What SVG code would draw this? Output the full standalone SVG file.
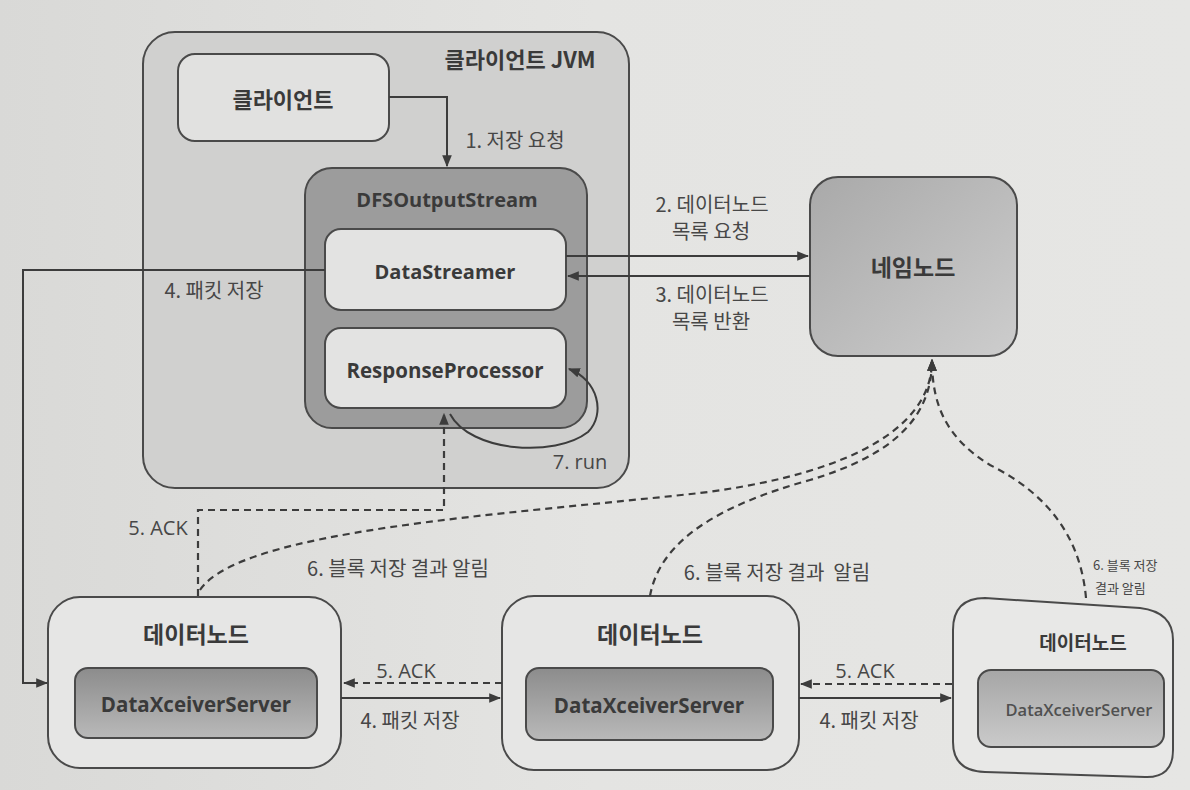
<svg xmlns="http://www.w3.org/2000/svg" width="1190" height="790" viewBox="0 0 1190 790">
<defs>
<linearGradient id="bg" x1="0" y1="0" x2="1" y2="0">
<stop offset="0" stop-color="#d9d9d7"/><stop offset="0.5" stop-color="#e4e4e2"/><stop offset="1" stop-color="#e6e6e4"/>
</linearGradient>
<linearGradient id="nn" x1="0" y1="0" x2="1" y2="1">
<stop offset="0" stop-color="#a9a9a9"/><stop offset="1" stop-color="#cdcdcd"/>
</linearGradient>
<linearGradient id="dxs" x1="0" y1="0" x2="0" y2="1">
<stop offset="0" stop-color="#8c8c8c"/><stop offset="1" stop-color="#b9b9b9"/>
</linearGradient>
<linearGradient id="dxs3" x1="0" y1="0" x2="0" y2="1">
<stop offset="0" stop-color="#a6a6a6"/><stop offset="1" stop-color="#cacaca"/>
</linearGradient>
<marker id="ahl" viewBox="0 0 10 10" refX="9" refY="5" markerWidth="12" markerHeight="12" orient="auto" markerUnits="userSpaceOnUse">
<path d="M0,1 L10,5 L0,9 z" fill="#3c3c3c"/>
</marker>
<style>
.box{stroke:#4a4a4a;stroke-width:2}
.t{font-family:"Noto Sans CJK KR","Open Sans",sans-serif;font-weight:bold;fill:#3a3a3a;text-anchor:middle}
.e{font-family:"Open Sans","Noto Sans CJK KR",sans-serif;font-weight:bold;fill:#3a3a3a;text-anchor:middle}
.l{font-family:"Noto Sans CJK KR","Open Sans",sans-serif;font-size:20px;fill:#474747;text-anchor:middle}
.le{font-family:"Open Sans","Noto Sans CJK KR",sans-serif;font-size:20px;fill:#474747;text-anchor:middle}
.s{font-family:"Noto Sans CJK KR","Open Sans",sans-serif;font-size:13px;fill:#474747;text-anchor:start}
.ln{fill:none;stroke:#3c3c3c;stroke-width:2}
.ds{fill:none;stroke:#3c3c3c;stroke-width:2.2;stroke-dasharray:7 5}
</style>
</defs>
<rect x="0" y="0" width="1190" height="790" fill="url(#bg)"/>

<g id="jvm">
<rect class="box" x="143" y="32" width="486" height="456" rx="32" fill="#d0d0cf"/>
<text class="t" x="520" y="68" font-size="22">클라이언트 JVM</text>
</g>
<g id="client">
<rect class="box" x="178" y="54" width="211" height="87" rx="17" fill="#e1e1e0"/>
<text class="t" x="283" y="108" font-size="22">클라이언트</text>
</g>
<g id="dfs">
<rect class="box" x="305" y="168" width="282" height="260" rx="27" fill="#9c9c9c"/>
<text class="e" x="447" y="207" font-size="20">DFSOutputStream</text>
</g>
<g id="datastreamer">
<rect class="box" x="325" y="229" width="241" height="81" rx="16" fill="#e3e3e2"/>
<text class="e" x="445" y="279" font-size="20">DataStreamer</text>
</g>
<g id="responseprocessor">
<rect class="box" x="325" y="328" width="241" height="80" rx="16" fill="#e3e3e2"/>
<text class="e" x="445" y="378" font-size="20.5">ResponseProcessor</text>
</g>
<g id="namenode">
<rect class="box" x="810" y="177" width="207" height="179" rx="28" fill="url(#nn)"/>
<text class="t" x="913" y="276" font-size="23">네임노드</text>
</g>
<g id="datanode1">
<rect class="box" x="48" y="597" width="293" height="171" rx="32" fill="#e6e6e5"/>
<text class="t" x="196" y="643" font-size="23">데이터노드</text>
<rect class="box" x="75" y="668" width="242" height="70" rx="13" fill="url(#dxs)"/>
<text class="e" x="196" y="712" font-size="20.5">DataXceiverServer</text>
</g>
<g id="datanode2">
<rect class="box" x="502" y="596" width="297" height="174" rx="32" fill="#e6e6e5"/>
<text class="t" x="650" y="643" font-size="23">데이터노드</text>
<rect class="box" x="526" y="668" width="247" height="72" rx="13" fill="url(#dxs)"/>
<text class="e" x="649" y="713" font-size="20.5">DataXceiverServer</text>
</g>
<g id="datanode3">
<path class="box" d="M953,630 Q953,598 985,598 L1140,608 Q1173,612 1173,640 L1173,750 Q1173,778 1145,777 L985,772 Q953,771 953,742 Z" fill="#e8e8e7"/>
<text class="t" x="1083" y="650" font-size="19">데이터노드</text>
<rect class="box" x="978" y="670" width="186" height="77" rx="13" fill="url(#dxs3)"/>
<text class="e" x="1079" y="716" font-size="16.5" style="fill:#505050;font-weight:600">DataXceiverServer</text>
</g>

<g id="connectors">
<path class="ln" d="M389,97 H447 V166" marker-end="url(#ahl)"/>
<text class="l" x="515" y="148">1. 저장 요청</text>

<path class="ln" d="M566,256 H808" marker-end="url(#ahl)"/>
<path class="ln" d="M810,276 H568" marker-end="url(#ahl)"/>
<text class="l" x="712" y="212">2. 데이터노드</text>
<text class="l" x="711" y="239">목록 요청</text>
<text class="l" x="712" y="302">3. 데이터노드</text>
<text class="l" x="711" y="329">목록 반환</text>

<path class="ln" d="M325,270 H23 V683 H47" marker-end="url(#ahl)"/>
<text class="l" x="214" y="298">4. 패킷 저장</text>

<path class="ds" d="M198,596 V510 H444 V414" marker-end="url(#ahl)"/>
<text class="le" x="158" y="535">5. ACK</text>

<path class="ln" d="M450,414 C470,452 555,458 588,432 C606,414 598,380 569,369" marker-end="url(#ahl)"/>
<text class="le" x="580" y="469">7. run</text>

<path class="ds" d="M200,590 C240,530 500,515 700,493 C820,478 932,440 932,360" marker-end="url(#ahl)"/>
<path class="ds" d="M650,596 C660,540 720,505 810,480 C890,456 932,420 932,360" marker-end="url(#ahl)"/>
<path class="ds" d="M1086,598 C1080,530 1040,490 990,465 C950,440 932,410 932,360" marker-end="url(#ahl)"/>
<text class="l" x="398" y="576">6. 블록 저장 결과 알림</text>
<text class="l" x="777" y="580" xml:space="preserve">6. 블록 저장 결과  알림</text>
<text class="s" x="1093" y="570">6. 블록 저장</text>
<text class="s" x="1095" y="593">결과 알림</text>

<path class="ds" d="M502,683 H344" marker-end="url(#ahl)"/>
<path class="ln" d="M341,698 H500" marker-end="url(#ahl)"/>
<text class="le" x="406" y="678">5. ACK</text>
<text class="l" x="410" y="728">4. 패킷 저장</text>

<path class="ds" d="M952,684 H801" marker-end="url(#ahl)"/>
<path class="ln" d="M799,698 H951" marker-end="url(#ahl)"/>
<text class="le" x="865" y="678">5. ACK</text>
<text class="l" x="869" y="728">4. 패킷 저장</text>
</g>
</svg>
